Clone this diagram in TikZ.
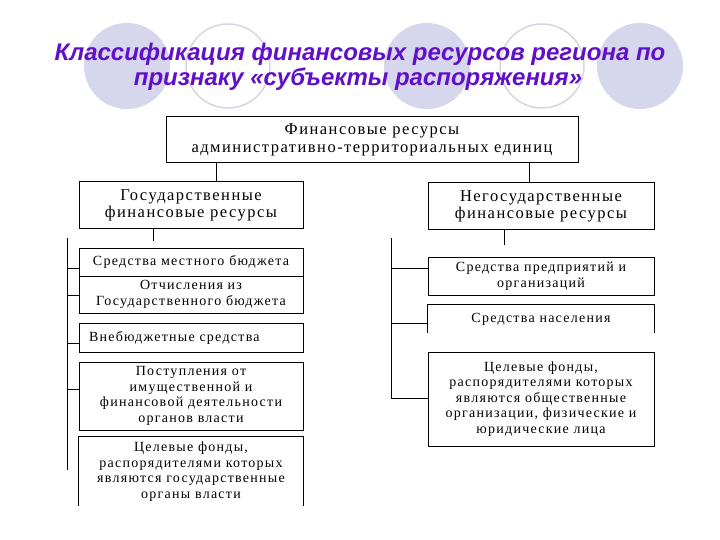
\documentclass[tikz,border=0pt]{standalone}
\usepackage{fontspec}
\setmainfont{Liberation Serif}
\newfontfamily\titlefont{Liberation Sans}
\newfontfamily\boxfont{Liberation Serif}[LetterSpace=9]
\definecolor{titlecol}{RGB}{96,16,200}
\definecolor{circfill}{RGB}{214,214,236}
\definecolor{circline}{RGB}{214,214,226}
\tikzset{
  box/.style={draw=black, line width=1pt, inner sep=0pt, align=center, font=\boxfont\fontsize{14}{15.5}\selectfont},
  openbox/.style={inner sep=0pt, align=center, font=\boxfont\fontsize{14}{15.5}\selectfont},
  headbox/.style={box, font=\boxfont\fontsize{16.5}{17.5}\selectfont},
  conn/.style={draw=black, line width=1pt},
  fillcirc/.style={fill=circfill, draw=none},
  ringcirc/.style={draw=circline, line width=1.5pt, fill=white},
  titletext/.style={font=\titlefont\bfseries\itshape\fontsize{24}{26}\selectfont, text=titlecol, inner sep=0pt}
}
\begin{document}
\begin{tikzpicture}[x=1pt,y=-1pt]
\useasboundingbox[fill=white] (0,0) rectangle (720,540);
% background circles
\fill[fillcirc] (127,66) circle (43);
\filldraw[ringcirc] (228,66) circle (42);
\fill[fillcirc] (427,66) circle (43);
\filldraw[ringcirc] (542,66) circle (42);
\fill[fillcirc] (640,66) circle (43);
% title
\node[titletext, anchor=base] (t1) at (360,61) {Классификация финансовых ресурсов региона по};
\node[titletext, anchor=base] (t2) at (358,86) {признаку «субъекты распоряжения»};
% boxes
\node[headbox, minimum width=412, minimum height=46] (top) at (372,140) {Финансовые ресурсы\\административно-территориальных единиц};
\node[headbox, minimum width=224, minimum height=47] (gos) at (191,205.5) {Государственные\\финансовые ресурсы};
\node[headbox, minimum width=226, minimum height=47] (neg) at (541,206.5) {Негосударственные\\финансовые ресурсы};
% left column
\node[box, minimum width=224, minimum height=28] (m1) at (191,262) {Средства местного бюджета};
\node[box, minimum width=224, minimum height=37] (m2) at (191,294.5) {Отчисления из\\Государственного бюджета};
\node[box, minimum width=224, minimum height=29, text width=204, align=left] (m3) at (191,337.5) {Внебюджетные средства};
\node[box, minimum width=224, minimum height=68] (m4) at (191,396) {Поступления от\\имущественной и\\финансовой деятельности\\органов власти};
\node[openbox, minimum width=224, minimum height=69] (m5) at (191,471.5) {Целевые фонды,\\распорядителями которых\\являются государственные\\органы власти};
\draw[conn] (m5.south west) -- (m5.north west) -- (m5.north east) -- (m5.south east);
% right column
\node[box, minimum width=226, minimum height=38] (r1) at (541,276) {Средства предприятий и\\организаций};
\node[openbox, minimum width=226, minimum height=28] (r2) at (541,319) {Средства населения};
\draw[conn] (r2.south west) -- (r2.north west) -- (r2.north east) -- (r2.south east);
\node[box, minimum width=226, minimum height=94] (r3) at (541,399) {Целевые фонды,\\распорядителями которых\\являются общественные\\организации, физические и\\юридические лица};
% connectors from top
\draw[conn] ([xshift=25pt]gos.north) -- ([xshift=25pt]gos.north |- top.south);
\draw[conn] ([xshift=-12pt]neg.north) -- ([xshift=-12pt]neg.north |- top.south);
% stubs
\coordinate (gs) at (153,241);
\coordinate (ns) at (504,245);
\draw[conn] (gos.south -| gs) -- (gs);
\draw[conn] (neg.south -| ns) -- (ns);
% left bracket
\coordinate (lt) at (67,238);
\coordinate (lb) at (67,470);
\draw[conn] (lt) -- (lb);
\draw[conn] (m1.west) ++(0,6) -- ++(-12,0);
\draw[conn] (m2.west) ++(0,0.5) -- ++(-12,0);
\draw[conn] (m3.west) ++(0,5.5) -- ++(-12,0);
\draw[conn] (m4.west) ++(0,-7) -- ++(-12,0);
% right bracket
\coordinate (rt) at (391,238);
\coordinate (rb) at (391,398);
\draw[conn] (rt) -- (rb);
\draw[conn] (r1.west) ++(0,-8) -- ++(-37,0);
\draw[conn] (r2.west) ++(0,4) -- ++(-37,0);
\draw[conn] (r3.west) ++(0,-1) -- ++(-37,0);
\end{tikzpicture}
\end{document}
